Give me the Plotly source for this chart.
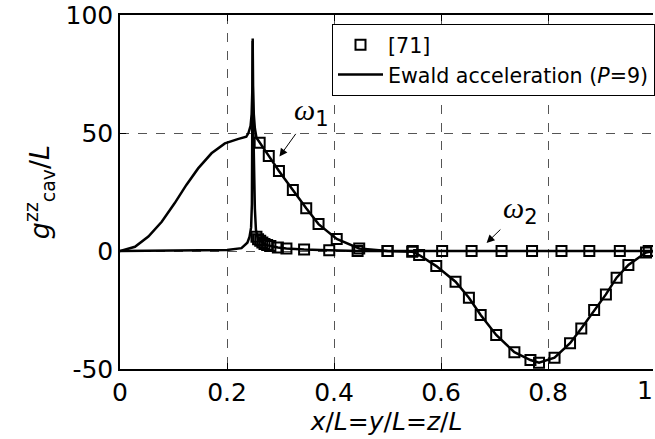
import plotly.graph_objects as go

# Ewald acceleration line, mode omega_1
line1_x = [0, 0.028, 0.053, 0.078, 0.102, 0.124, 0.146, 0.171, 0.196, 0.210, 0.220, 0.236, 0.240, 0.244, 0.246,
           0.2475, 0.248, 0.2485, 0.250, 0.252, 0.255, 0.261, 0.278, 0.297, 0.323, 0.348, 0.371, 0.405,
           0.447, 0.500, 0.546, 0.559, 0.591, 0.627, 0.652, 0.674, 0.703, 0.737, 0.767, 0.783, 0.812,
           0.841, 0.862, 0.886, 0.908, 0.928, 0.950, 0.983, 1.0]
line1_y = [0, 1.8, 6.1, 12.4, 20.2, 28, 35, 41.4, 45.6, 46.8, 47.4, 48.4, 50, 53, 58,
           70, 90, 70, 58, 52, 48, 45.9, 40.3, 33.9, 25.8, 18.1, 11.4, 5.1,
           1.1, 0, -0.3, -1.7, -6.4, -13, -19.8, -27.1, -35.6, -42.9, -46.2, -47.3, -45.2,
           -39.1, -32.8, -25, -18.4, -11.3, -5.9, -0.6, 0]

# Ewald acceleration line, mode omega_2
line2_x = [0, 0.1, 0.2, 0.227, 0.238, 0.242, 0.245, 0.2465, 0.2475, 0.248, 0.2485, 0.250, 0.252, 0.254,
           0.256, 0.258, 0.262, 0.266, 0.270, 0.275, 0.281, 0.295, 0.311, 0.344, 0.391, 0.444, 0.5,
           0.6, 0.7, 0.8, 0.9, 1.0]
line2_y = [0, 0.1, 0.4, 1.2, 3.5, 6, 10, 20, 45, 89, 60, 35, 18, 9,
           6, 5, 4.3, 3.6, 3, 2.5, 2.1, 1.5, 1.1, 0.6, 0.3, 0, 0,
           0, 0, 0, 0, 0]

# Reference [71] markers
ref1_x = [0.261, 0.278, 0.297, 0.323, 0.348, 0.371, 0.405, 0.447, 0.500, 0.546, 0.559, 0.591, 0.627,
          0.652, 0.674, 0.703, 0.737, 0.767, 0.783, 0.812, 0.841, 0.862, 0.886, 0.908, 0.928, 0.950, 0.983]
ref1_y = [45.9, 40.3, 33.9, 25.8, 18.1, 11.4, 5.1, 1.1, 0, -0.3, -1.7, -6.4, -13,
          -19.8, -27.1, -35.6, -42.9, -46.2, -47.3, -45.2, -39.1, -32.8, -25, -18.4, -11.3, -5.9, -0.6]
ref2_x = [0.255, 0.258, 0.262, 0.266, 0.270, 0.275, 0.281, 0.295, 0.311, 0.344, 0.391, 0.444, 0.500,
          0.547, 0.602, 0.657, 0.713, 0.770, 0.825, 0.877, 0.934, 0.988]
ref2_y = [6, 5, 4.3, 3.6, 3, 2.5, 2.1, 1.5, 1.1, 0.6, 0.3, 0, 0,
          0, 0, 0, 0, 0, 0, 0, 0, 0]

x_ticks = [0, 0.2, 0.4, 0.6, 0.8]
x_tick_text = ["0", "0.2", "0.4", "0.6", "0.8"]
y_ticks = [-50, 0, 50, 100]
y_tick_text = ["-50", "0", "50", "100"]

FONT = "DejaVu Sans, sans-serif"
X_MAX = 0.996
marker_style = dict(symbol="square-open", size=10, color="black", line=dict(width=2, color="black"))

fig = go.Figure()
fig.add_trace(go.Scatter(x=ref1_x, y=ref1_y, mode="markers", marker=marker_style, name="[71]",
                         showlegend=True))
fig.add_trace(go.Scatter(x=ref2_x, y=ref2_y, mode="markers", marker=marker_style, name="[71]",
                         showlegend=False))
fig.add_trace(go.Scatter(x=line1_x, y=line1_y, mode="lines", line=dict(color="black", width=2.5),
                         name="Ewald acceleration (<i>P</i>=9)", showlegend=True))
fig.add_trace(go.Scatter(x=line2_x, y=line2_y, mode="lines", line=dict(color="black", width=2.5),
                         showlegend=False))

omega = "<span style='font-family:Liberation Serif'><i>ω</i></span>"
# omega labels with arrows pointing to the curves
fig.add_annotation(x=0.298, y=40, ax=0.358, ay=59, xref="x", yref="y", axref="x", ayref="y",
                   text=omega + "<sub>1</sub>", showarrow=True, arrowhead=2, arrowsize=1.6,
                   arrowwidth=1, arrowcolor="black", standoff=0, startstandoff=2,
                   font=dict(size=30, color="black", family=FONT))
fig.add_annotation(x=0.685, y=3.4, ax=0.749, ay=17.5, xref="x", yref="y", axref="x", ayref="y",
                   text=omega + "<sub>2</sub>", showarrow=True, arrowhead=2, arrowsize=1.6,
                   arrowwidth=1, arrowcolor="black", standoff=0, startstandoff=2,
                   font=dict(size=30, color="black", family=FONT))
# tick label "1" at the clipped right edge
fig.add_annotation(x=1 / X_MAX, y=0, xref="paper", yref="paper", yanchor="top", yshift=-5, text="1",
                   showarrow=False, font=dict(size=25, color="black", family=FONT))

fig.update_layout(
    width=655, height=439,
    margin=dict(l=120, r=0, t=15, b=70),
    paper_bgcolor="white", plot_bgcolor="white",
    font=dict(family=FONT, color="black", size=25),
    showlegend=True,
    legend=dict(x=0.398, y=0.975, xanchor="left", yanchor="top", bgcolor="white",
                bordercolor="black", borderwidth=1, font=dict(size=20.6, family=FONT),
                traceorder="normal", tracegroupgap=0, itemwidth=45),
)
fig.update_xaxes(range=[0, X_MAX], tickvals=x_ticks, ticktext=x_tick_text,
                 showline=True, linecolor="black", linewidth=1.5, mirror="ticks",
                 ticks="inside", ticklen=6, tickcolor="black",
                 showgrid=True, gridcolor="#555555", griddash="dash", gridwidth=1,
                 zeroline=False, tickfont=dict(size=25),
                 title=dict(text="<i>x</i>/<i>L</i>=<i>y</i>/<i>L</i>=<i>z</i>/<i>L</i>",
                            font=dict(size=25), standoff=0))
fig.update_yaxes(range=[-50, 100], tickvals=y_ticks, ticktext=y_tick_text,
                 showline=True, linecolor="black", linewidth=1.5, mirror=False,
                 ticks="inside", ticklen=6, tickcolor="black",
                 showgrid=True, gridcolor="#555555", griddash="dash", gridwidth=1,
                 zeroline=False, tickfont=dict(size=25),
                 title=dict(text="<i>g</i><sup>zz</sup><sub>cav</sub>/<i>L</i>",
                            font=dict(size=27), standoff=8))

fig.write_html("out.html")
